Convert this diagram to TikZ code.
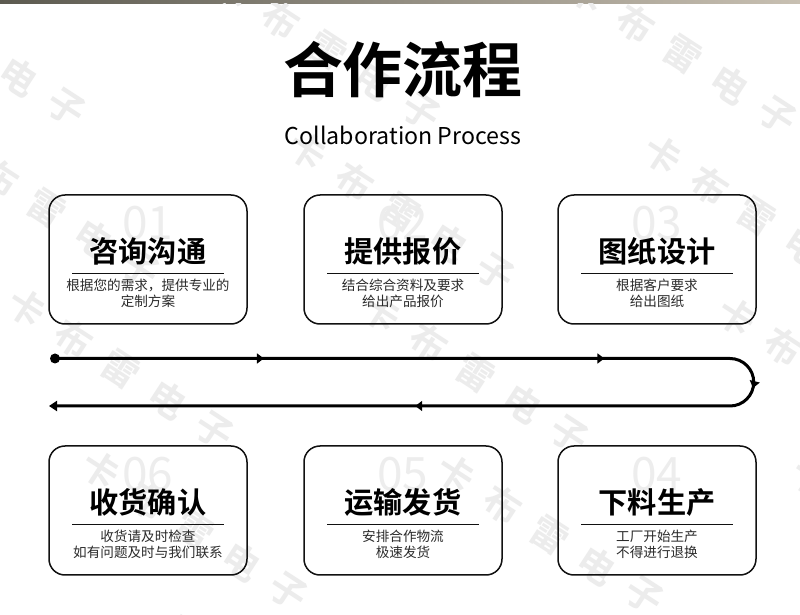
\documentclass[tikz,border=0pt]{standalone}
\usepackage{fontspec}
\setmainfont{Noto Sans CJK SC}[BoldFont={Noto Sans CJK SC Bold}]
\usetikzlibrary{arrows.meta,decorations.markings}
\definecolor{ink}{HTML}{111111}
\definecolor{desctext}{HTML}{2A2A2A}
\definecolor{wmark}{HTML}{ECECEC}
\definecolor{numgray}{HTML}{EDEDED}
\definecolor{bandL}{HTML}{5C5A50}
\definecolor{bandR}{HTML}{C8C0B2}
\tikzset{
  card/.style={draw=ink, line width=0.75pt, rounded corners=8pt, minimum width=99pt, minimum height=64.5pt, inner sep=0pt},
  cardtitle/.style={text=black, font=\bfseries\fontsize{14.6}{15}\selectfont, inner sep=0pt},
  desc/.style={text=desctext, font=\fontsize{6.8}{8.2}\selectfont, align=center, inner sep=0pt},
  rule/.style={draw=ink, line width=0.6pt},
  bignum/.style={text=numgray, font=\fontsize{23}{23}\selectfont, inner sep=0pt},
  wm/.style={text=wmark, font=\bfseries\fontsize{18.5}{18.5}\selectfont, rotate=-33, inner sep=0pt},
  flowline/.style={draw=black, line width=1.5pt},
  pt/.style={circle, fill=black, inner sep=0pt, minimum size=5pt},
}

\begin{document}
\begin{tikzpicture}[x=0.5pt, y=-0.5pt]
  \useasboundingbox (0,0) rectangle (800,615);
  \fill[white] (0,0) rectangle (800,615);
  \shade[left color=bandL, right color=bandR] (0,0) rectangle (800,4);
  % watermark rows, 33 degrees down to the right
  \begin{scope}
    \clip (0,4) rectangle (800,615);
    \foreach \i in {-1,...,9}{
      \pgfmathsetmacro\t{-326+95*\i}
      \pgfmathsetmacro\sb{mod(490+150*\i,600)}
      \foreach \j in {-1,0,1}{
        \foreach \ch [count=\k from 0] in {卡,布,雷,电,子}{
          \pgfmathsetmacro\s{\sb+600*\j+56*\k}
          \node[wm] at ({0.839*\s-0.545*\t},{0.545*\s+0.839*\t}) {\ch};
        }
      }
    }
  \end{scope}

  \node[font=\bfseries\fontsize{30}{30}\selectfont, inner sep=0pt] (title) at (403,70) {合作流程};
  \node[font=\fontsize{11.6}{12}\selectfont, inner sep=0pt, anchor=base] (subtitle) at (403,145) {Collaboration Process};

  % cards: x, y (center), name, number, title, two lines
  \foreach \cx/\cy/\nm/\num/\ttl/\la/\lb in {
      148/259.5/zixun/01/咨询沟通/{根据您的需求，提供专业的}/定制方案,
      403/259.5/baojia/02/提供报价/结合综合资料及要求/给出产品报价,
      657/259.5/tuzhi/03/图纸设计/根据客户要求/给出图纸,
      657/510.5/shengchan/04/下料生产/工厂开始生产/不得进行退换,
      403/510.5/fahuo/05/运输发货/安排合作物流/极速发货,
      148/510.5/shouhuo/06/收货确认/收货请及时检查/如有问题及时与我们联系}{
    \node[bignum] (\nm-num) at (\cx,\cy-36) {\num};
    \node[card] (\nm) at (\cx,\cy) {};
    \node[cardtitle] (\nm-title) at (\cx,\cy-8) {\ttl};
    \draw[rule] (\cx-76,\cy+14) coordinate (\nm-l) -- (\cx+76,\cy+14) coordinate (\nm-r);
    \node[desc] (\nm-desc) at (\cx,\cy+34) {\la\\\lb};
  }

  % process line
  \node[pt] (dot) at (55,358.5) {};
  \coordinate (turn) at (730,358.5);
  \coordinate (fin) at (49,406);
  \draw[flowline, -{Triangle[length=4pt,width=5pt]},
    postaction={decorate},
    decoration={markings,
      mark=at position 0.146 with {\arrow{Triangle[length=3.5pt,width=5pt]}},
      mark=at position 0.384 with {\arrow{Triangle[length=3.5pt,width=5pt]}},
      mark=at position 0.502 with {\arrow{Triangle[length=3.5pt,width=5pt]}},
      mark=at position 0.744 with {\arrow{Triangle[length=3.5pt,width=5pt]}}}]
    (dot.center) -- (turn) arc (-90:90:23.75) -- (fin);
\end{tikzpicture}
\end{document}
